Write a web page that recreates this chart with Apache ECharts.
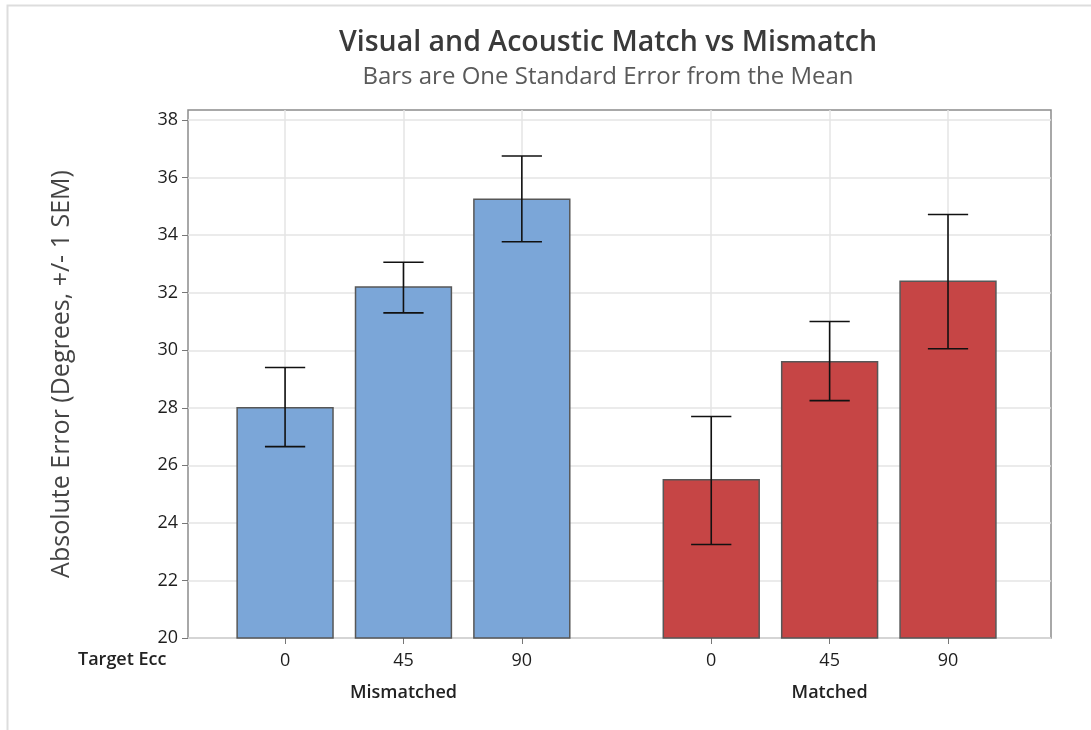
<!DOCTYPE html>
<html>
<head>
<meta charset="utf-8">
<title>Visual and Acoustic Match vs Mismatch</title>
<script src="https://cdn.jsdelivr.net/npm/echarts@6/dist/echarts.min.js"></script>
<style>
  html, body { margin: 0; padding: 0; background: #ffffff; }
  #chart { width: 1091px; height: 730px; }
</style>
</head>
<body>
<div id="chart"></div>
<script>
// Absolute error by target eccentricity, split by visual/acoustic condition
const groups = ['Mismatched', 'Matched'];
const targetEcc = ['0', '45', '90'];
const meanMismatched = [28.0, 32.2, 35.25];
const meanMatched = [25.5, 29.6, 32.4];
const lowMismatched = [26.65, 31.3, 33.77];
const highMismatched = [29.4, 33.06, 36.75];
const lowMatched = [23.25, 28.25, 30.05];
const highMatched = [27.7, 31.0, 34.72];
const yTicks = [20, 22, 24, 26, 28, 30, 32, 34, 36, 38];

const groupColors = ['#7BA6D8', '#C64545'];
const groupGap = 0.6;              // extra space between the two groups, in slot units
const barWidth = 0.81;             // bar width, in slot units
const capWidth = 0.34;             // error-bar cap width, in slot units
const yBase = 20;

const means = [meanMismatched, meanMatched];
const lows = [lowMismatched, lowMatched];
const highs = [highMismatched, highMatched];

// slot position of each bar along the x value axis
const rows = [];
groups.forEach((g, gi) => {
  targetEcc.forEach((t, ti) => {
    rows.push({
      x: gi * (targetEcc.length + groupGap) + ti,
      group: gi,
      label: t,
      mean: means[gi][ti],
      low: lows[gi][ti],
      high: highs[gi][ti]
    });
  });
});
const positions = rows.map(r => r.x);
const groupCenters = groups.map((g, gi) => gi * (targetEcc.length + groupGap) + (targetEcc.length - 1) / 2);
const xMin = -0.82;
const xMax = positions[positions.length - 1] + 0.87;

const labelAt = (v) => {
  const r = rows.find(r => Math.abs(r.x - v) < 1e-6);
  return r ? r.label : '';
};
const groupAt = (v) => {
  const i = groupCenters.findIndex(c => Math.abs(c - v) < 1e-6);
  return i >= 0 ? groups[i] : '';
};

const chart = echarts.init(document.getElementById('chart'), null, { renderer: 'canvas' });

const font = '"Open Sans", "Noto Sans", sans-serif';

chart.setOption({
  animation: false,
  backgroundColor: '#ffffff',
  title: {
    text: 'Visual and Acoustic Match vs Mismatch',
    subtext: 'Bars are One Standard Error from the Mean',
    left: 603,
    textAlign: 'center',
    top: 23,
    itemGap: 8,
    textStyle: { fontFamily: font, fontSize: 28.5, fontWeight: 600, color: '#3a3a3a' },
    subtextStyle: { fontFamily: font, fontSize: 24, fontWeight: 400, color: '#5a5a5a' }
  },
  graphic: [
    {
      type: 'rect',
      shape: { x: 7.5, y: 5.5, width: 1100, height: 740 },
      style: { fill: 'none', stroke: '#dddddd', lineWidth: 2 },
      silent: true, z: -10
    },
    {
      type: 'text',
      left: 78,
      top: 651,
      style: { text: 'Target Ecc', fontFamily: font, fontSize: 18, fontWeight: 600, fill: '#222222' }
    }
  ],
  grid: {
    left: 188, top: 110, right: 40, bottom: 92,
    show: true, borderColor: '#8c8c8c', borderWidth: 1.5, backgroundColor: '#ffffff'
  },
  xAxis: [
    {
      type: 'value',
      min: xMin,
      max: xMax,
      axisLine: { show: false, onZero: false },
      axisTick: { show: true, customValues: positions, length: 6, lineStyle: { color: '#777777' } },
      axisLabel: {
        customValues: positions,
        formatter: labelAt,
        margin: 14,
        fontFamily: font, fontSize: 18, color: '#1e1e1e'
      },
      splitLine: { show: true, lineStyle: { color: '#e4e4e4', width: 1.5 } }
    },
    {
      type: 'value',
      min: xMin,
      max: xMax,
      position: 'bottom',
      offset: 46,
      axisLine: { show: false, onZero: false },
      axisTick: { show: false, customValues: groupCenters },
      axisLabel: {
        customValues: groupCenters,
        formatter: groupAt,
        margin: 0,
        fontFamily: font, fontSize: 18, fontWeight: 600, color: '#222222'
      },
      splitLine: { show: false }
    }
  ],
  yAxis: {
    type: 'value',
    min: yBase,
    max: 38.35,
    name: 'Absolute Error (Degrees, +/- 1 SEM)',
    nameLocation: 'middle',
    nameGap: 114,
    nameTextStyle: { fontFamily: font, fontSize: 25, color: '#444444' },
    axisLine: { show: false, onZero: false },
    axisTick: { show: true, customValues: yTicks, length: 6, lineStyle: { color: '#777777' } },
    axisLabel: {
      customValues: yTicks,
      margin: 10,
      fontFamily: font, fontSize: 18, color: '#1e1e1e'
    },
    splitLine: { show: true, lineStyle: { color: '#e4e4e4', width: 1.5 } }
  },
  series: [
    {
      name: 'mean',
      type: 'custom',
      xAxisIndex: 0,
      data: rows.map(r => [r.x, r.mean, r.group]),
      renderItem: function (params, api) {
        const x = api.value(0);
        const v = api.value(1);
        const g = api.value(2);
        const p0 = api.coord([x - barWidth / 2, v]);
        const p1 = api.coord([x + barWidth / 2, yBase]);
        return {
          type: 'rect',
          shape: { x: p0[0], y: p0[1], width: p1[0] - p0[0], height: p1[1] - p0[1] },
          style: { fill: groupColors[g], stroke: '#575757', lineWidth: 1.5 }
        };
      },
      z: 3
    },
    {
      name: 'sem',
      type: 'custom',
      xAxisIndex: 0,
      data: rows.map(r => [r.x, r.low, r.high]),
      renderItem: function (params, api) {
        const x = api.value(0);
        const lo = api.coord([x, api.value(1)]);
        const hi = api.coord([x, api.value(2)]);
        const capL = api.coord([x - capWidth / 2, api.value(2)]);
        const capR = api.coord([x + capWidth / 2, api.value(2)]);
        const half = (capR[0] - capL[0]) / 2;
        const st = { stroke: '#111111', lineWidth: 1.6 };
        return {
          type: 'group',
          children: [
            { type: 'line', shape: { x1: lo[0], y1: lo[1], x2: hi[0], y2: hi[1] }, style: st },
            { type: 'line', shape: { x1: hi[0] - half, y1: hi[1], x2: hi[0] + half, y2: hi[1] }, style: st },
            { type: 'line', shape: { x1: lo[0] - half, y1: lo[1], x2: lo[0] + half, y2: lo[1] }, style: st }
          ]
        };
      },
      z: 4
    }
  ]
});
</script>
</body>
</html>
